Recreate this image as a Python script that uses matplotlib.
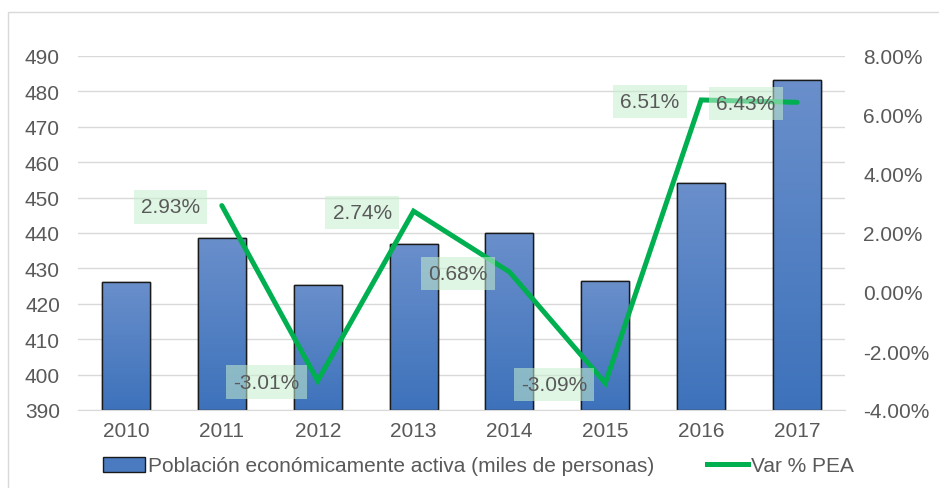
import matplotlib
matplotlib.use("Agg")
import matplotlib.pyplot as plt
import numpy as np
from matplotlib.patches import Rectangle, Patch
from matplotlib.lines import Line2D
from matplotlib.colors import LinearSegmentedColormap

plt.rcParams['font.family'] = ['Liberation Sans', 'DejaVu Sans']

years = ['2010', '2011', '2012', '2013', '2014', '2015', '2016', '2017']
pea = [426.2, 438.6, 425.3, 436.9, 440.0, 426.4, 454.1, 483.2]
var_years = ['2011', '2012', '2013', '2014', '2015', '2016', '2017']
var_pct = [2.93, -3.01, 2.74, 0.68, -3.09, 6.51, 6.43]
var_labels = ['2.93%', '-3.01%', '2.74%', '0.68%', '-3.09%', '6.51%', '6.43%']

text_color = '#595959'
grid_color = '#d9d9d9'
line_color = '#00b050'
fs = 15

fig = plt.figure(figsize=(9.39, 4.89), dpi=100)
fig.add_artist(Rectangle((8/939, -0.01), 1.0, 1 - 13/489 + 0.01, transform=fig.transFigure,
                         fill=False, edgecolor='#d9d9d9', linewidth=1))

ax = fig.add_axes([78/939, 1 - 411/489, (845 - 78)/939, (411 - 57)/489])
x = np.arange(len(years))
bars = ax.bar(x, pea, width=0.5, color='#4a7bc0', edgecolor='#1a1a1a', linewidth=1.0, zorder=2)
ax.set_ylim(390, 490)
ax.set_xlim(-0.5, len(years) - 0.5)

grad = np.linspace(0, 1, 256).reshape(-1, 1)
cmap = LinearSegmentedColormap.from_list('g', ['#3d72bb', '#6a8fcb'])
for b in bars:
    bx, bw, bh = b.get_x(), b.get_width(), b.get_height()
    im = ax.imshow(grad, extent=[bx, bx + bw, 390, bh], origin='lower', cmap=cmap,
                   aspect='auto', zorder=2.1)
    im.set_clip_path(b)
    ax.add_patch(Rectangle((bx, 390), bw, bh - 390, fill=False, edgecolor='#1a1a1a',
                           linewidth=1.0, zorder=2.2))
ax.set_aspect('auto')
ax.set_xlim(-0.5, len(years) - 0.5)
ax.set_ylim(390, 490)

ax.set_yticks(np.arange(390, 491, 10))
ax.set_xticks(x)
ax.set_xticklabels(years)
ax.yaxis.grid(True, color=grid_color, linewidth=1)
ax.set_axisbelow(True)
for s in ax.spines.values():
    s.set_visible(False)
ax.spines['bottom'].set_visible(True)
ax.spines['bottom'].set_color(grid_color)
ax.tick_params(axis='both', length=0, labelsize=fs, colors=text_color)
ax.tick_params(axis='y', pad=13)
ax.tick_params(axis='x', pad=8)

ax2 = ax.twinx()
xl = [years.index(y) for y in var_years]
ax2.plot(xl, var_pct, color=line_color, linewidth=3.6, solid_capstyle='round',
         solid_joinstyle='miter', zorder=5)
ax2.set_ylim(-4, 8)
ticks2 = np.arange(-4, 8.1, 2)
ax2.set_yticks(ticks2)
ax2.set_yticklabels([f'{v:.2f}%' for v in ticks2])
for s in ax2.spines.values():
    s.set_visible(False)
ax2.tick_params(axis='y', length=0, labelsize=fs, colors=text_color, pad=13)

for xi, v, lab in zip(xl, var_pct, var_labels):
    ax2.annotate(lab, (xi, v), xytext=(-37, -1), textcoords='offset points', ha='center', va='center',
                 fontsize=fs, color=text_color, zorder=6,
                 bbox=dict(boxstyle='square,pad=0.35', facecolor='#c6efce', edgecolor='none', alpha=0.55))

handles = [Patch(facecolor='#4a7bc0', edgecolor='#1a1a1a', linewidth=1.0),
           Line2D([0], [0], color=line_color, linewidth=3.6)]
leg = fig.legend(handles, ['Población económicamente activa (miles de personas)', 'Var % PEA'],
                 loc='center', bbox_to_anchor=(0.51, 1 - 467/489), ncol=2, frameon=False,
                 fontsize=fs, handlelength=2.0, handletextpad=0.15, columnspacing=2.5)
for t in leg.get_texts():
    t.set_color(text_color)

fig.savefig('out.png', dpi=100)
